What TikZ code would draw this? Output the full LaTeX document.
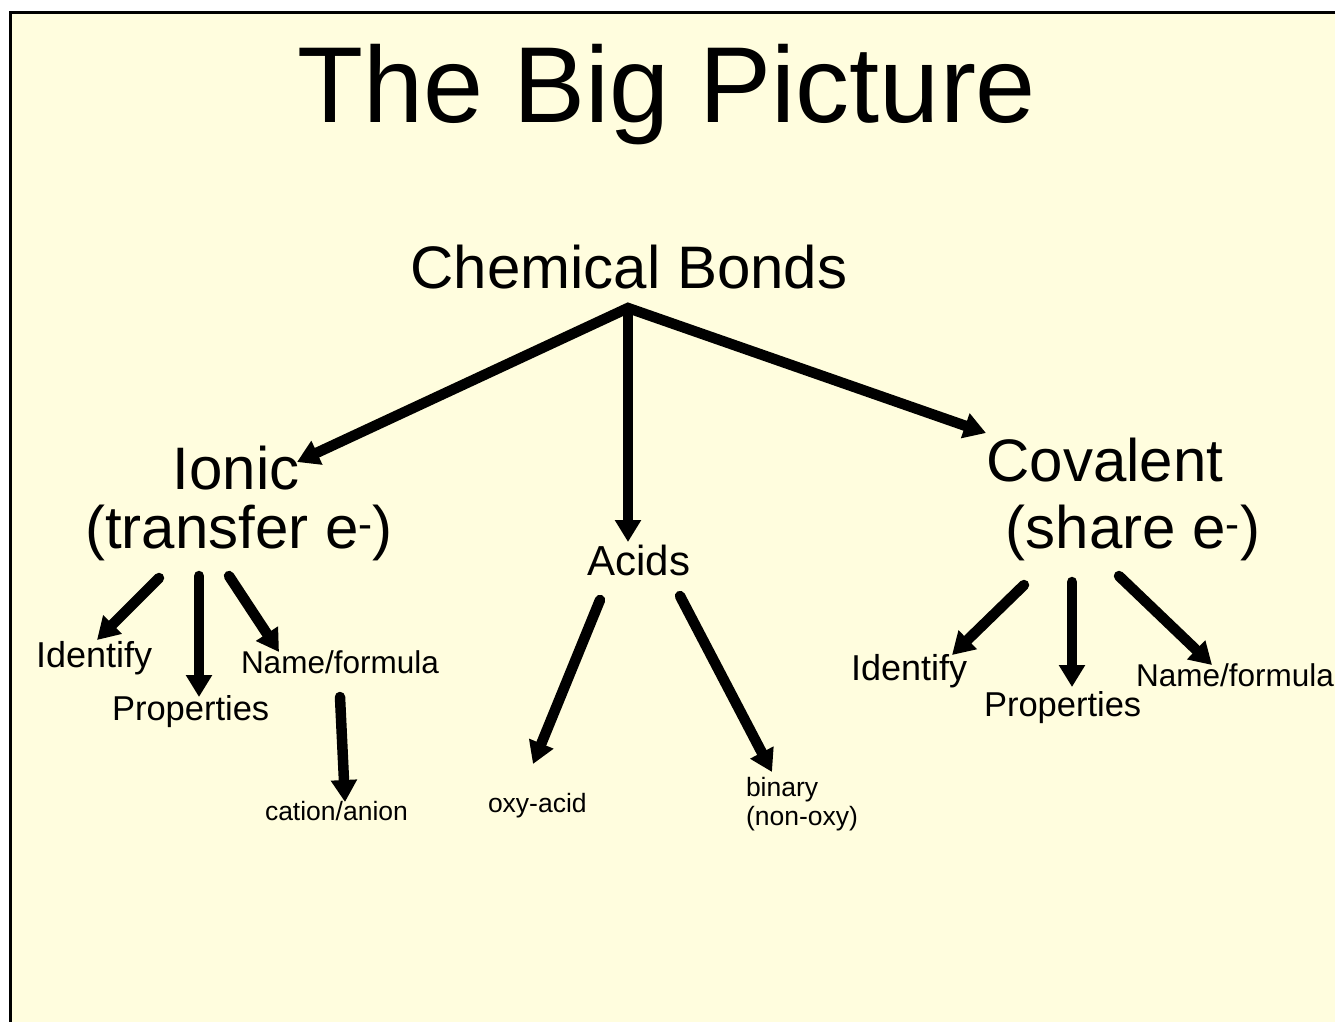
\documentclass[tikz,border=0pt]{standalone}
\usepackage{fontspec}
\setmainfont{Liberation Sans}
\usetikzlibrary{arrows.meta}
\definecolor{bgyellow}{RGB}{255,253,222}
\newcommand\myfs[1]{\fontsize{#1}{#1}\selectfont}
\begin{document}
\begin{tikzpicture}[x=1pt,y=-1pt,
  lbl/.style={inner sep=0pt,outer sep=0pt,text=black},
  tipshape/.tip={Triangle[length=22pt,width=25pt]},
  arr/.style={line width=10.5pt,line cap=round,line join=miter,-tipshape},
  big/.style={lbl,font=\myfs{60}},
  mid/.style={lbl,font=\myfs{42}},
  small/.style={lbl,font=\myfs{26.5}},
]
\useasboundingbox (0,0) rectangle (1335,1021);
\clip (0,0) rectangle (1335,1021);
\fill[white] (0,0) rectangle (1335,1021);
\filldraw[fill=bgyellow,draw=black,line width=3pt] (10.5,12.5) rectangle (1345,1035);

% texts
\node[lbl,anchor=base,font=\myfs{108}] (title) at (667,122) {The Big Picture};
\node[big,anchor=base] (chem) at (629,288) {Chemical Bonds};
\node[big,anchor=base] (ionic) at (236,489) {Ionic};
\node[big,anchor=base] (ionicsub) at (239,548) {(transfer e\textsuperscript{-})};
\node[big,anchor=base] (cov) at (1105,481) {Covalent};
\node[big,anchor=base] (covsub) at (1133,548) {(share e\textsuperscript{-})};
\node[mid,anchor=base] (acids) at (639,575) {Acids};

\node[lbl,anchor=base west,font=\myfs{36}] (idL) at (36,667) {Identify};
\node[lbl,anchor=base west,font=\myfs{34.5}] (propL) at (112,720) {Properties};
\node[lbl,anchor=base west,font=\myfs{31.5}] (nameL) at (241,673) {Name/formula};
\node[small,anchor=base west] (cation) at (265,820) {cation/anion};
\node[small,anchor=base west] (oxy) at (488,812) {oxy-acid};
\node[small,anchor=base west] (binary) at (746,796) {binary};
\node[small,anchor=base west] (nonoxy) at (746,825) {(non-oxy)};
\node[lbl,anchor=base west,font=\myfs{36}] (idR) at (851,680) {Identify};
\node[lbl,anchor=base west,font=\myfs{34.5}] (propR) at (984,716) {Properties};
\node[lbl,anchor=base west,font=\myfs{31.5}] (nameR) at (1136,686) {Name/formula};

% connector end points
\coordinate (chemJ) at (628,308);
\coordinate (ionicIn) at (297,462);
\coordinate (covIn) at (986,433);
\coordinate (acidsIn) at (628,542);

\coordinate (ionicOutA) at (159,578);
\coordinate (ionicOutB) at (199,576);
\coordinate (ionicOutC) at (229,576);
\coordinate (idLIn) at (97,640);
\coordinate (propLIn) at (199,697);
\coordinate (nameLIn) at (279,652);
\coordinate (nameLOut) at (340,697);
\coordinate (cationIn) at (345,802);

\coordinate (acidsOutA) at (600,600);
\coordinate (acidsOutB) at (680,596);
\coordinate (oxyIn) at (533,764);
\coordinate (binaryIn) at (772,772);

\coordinate (covOutA) at (1024,585);
\coordinate (covOutB) at (1072,582);
\coordinate (covOutC) at (1119,576);
\coordinate (idRIn) at (952,655);
\coordinate (propRIn) at (1072,687);
\coordinate (nameRIn) at (1212,665);

% connectors
\draw[line width=10.5pt,line join=miter,tipshape-tipshape] (ionicIn) -- (chemJ) -- (covIn);
\draw[arr,line cap=butt] (chemJ) -- (acidsIn);

\draw[arr] (ionicOutA) -- (idLIn);
\draw[arr] (ionicOutB) -- (propLIn);
\draw[arr] (ionicOutC) -- (nameLIn);
\draw[arr] (nameLOut) -- (cationIn);

\draw[arr] (acidsOutA) -- (oxyIn);
\draw[arr] (acidsOutB) -- (binaryIn);

\draw[arr] (covOutA) -- (idRIn);
\draw[arr] (covOutB) -- (propRIn);
\draw[arr] (covOutC) -- (nameRIn);
\end{tikzpicture}
\end{document}
